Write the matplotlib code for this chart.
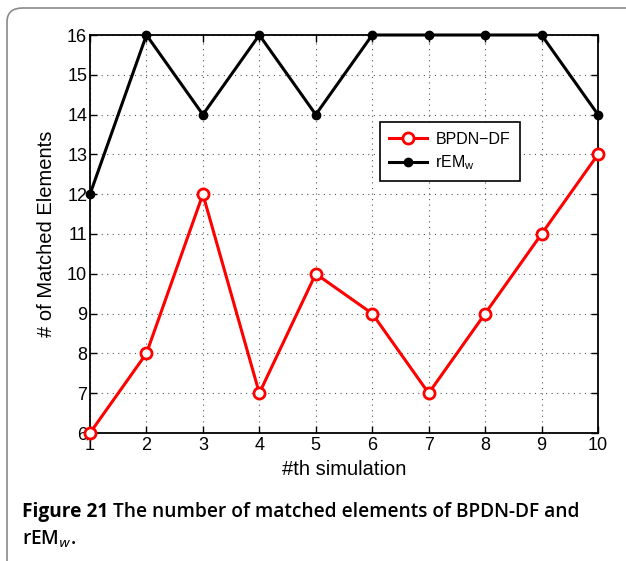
import matplotlib
matplotlib.use('Agg')
import matplotlib.pyplot as plt
import matplotlib.patches as patches
import numpy as np

plt.rcParams['font.family'] = ['Liberation Sans', 'DejaVu Sans']

simulations = [1, 2, 3, 4, 5, 6, 7, 8, 9, 10]
bpdn_df = [6, 8, 12, 7, 10, 9, 7, 9, 11, 13]
rem_w = [12, 16, 14, 16, 14, 16, 16, 16, 16, 14]

W, H = 626, 561
fig = plt.figure(figsize=(W / 100, H / 100), dpi=100)
fig.patch.set_facecolor('white')

# rounded outer frame (only top/left visible, rest runs off the page)
frame = patches.FancyBboxPatch((7 / W, -0.2), 1.2, (H - 8) / H + 0.2,
                               boxstyle='round,pad=0,rounding_size=0.025',
                               transform=fig.transFigure, facecolor='none',
                               edgecolor='#8a8a8a', linewidth=1.2)
fig.patches.append(frame)

ax = fig.add_axes([90 / W, 1 - 433 / H, 508 / W, 398 / H])

ax.plot(simulations, bpdn_df, '-o', color='#ff0000', linewidth=2.2,
        markersize=8, markerfacecolor='white', markeredgewidth=2,
        label='BPDN\u2212DF', clip_on=False, zorder=4)
ax.plot(simulations, rem_w, '-o', color='black', linewidth=2.2,
        markersize=6, label='rEM$_\\mathregular{w}$', clip_on=False, zorder=4)

ax.set_xlim(1, 10)
ax.set_ylim(6, 16)
ax.set_xticks(simulations)
ax.set_yticks(range(6, 17))
ax.grid(True, linestyle=(0, (1, 4)), color='#555555', linewidth=0.8)
ax.tick_params(direction='in', labelsize=13, length=5, width=1, top=True, right=True)
ax.tick_params(axis='x', pad=3)
ax.tick_params(axis='y', pad=2)
for s in ax.spines.values():
    s.set_linewidth(1.3)

ax.set_xlabel('#th simulation', fontsize=14.5, labelpad=4)
ax.set_ylabel('# of Matched Elements', fontsize=14.5, labelpad=8)

leg = ax.legend(loc='upper right', bbox_to_anchor=(0.846, 0.781), borderaxespad=0,
                fontsize=11.5, fancybox=False, framealpha=1, edgecolor='black',
                handlelength=2.4, handletextpad=0.5, borderpad=0.6, labelspacing=0.4)
leg.get_frame().set_linewidth(1.2)

cap_family = ['Open Sans', 'DejaVu Sans']
cap_size = 13.8
t1 = fig.text(22 / W, 1 - 512 / H, 'Figure 21 ', fontsize=cap_size, fontweight='bold',
              family=cap_family, va='center')
fig.canvas.draw()
bb = t1.get_window_extent()
fig.text(bb.x1 / W, 1 - 512 / H, 'The number of matched elements of BPDN-DF and',
         fontsize=cap_size, fontweight='semibold', family=cap_family, va='center')
fig.text(22 / W, 1 - 539 / H, 'rEM$_{w}$.', fontsize=cap_size, fontweight='semibold',
         family=cap_family, va='center')

fig.savefig('out.png', dpi=100, facecolor='white')
